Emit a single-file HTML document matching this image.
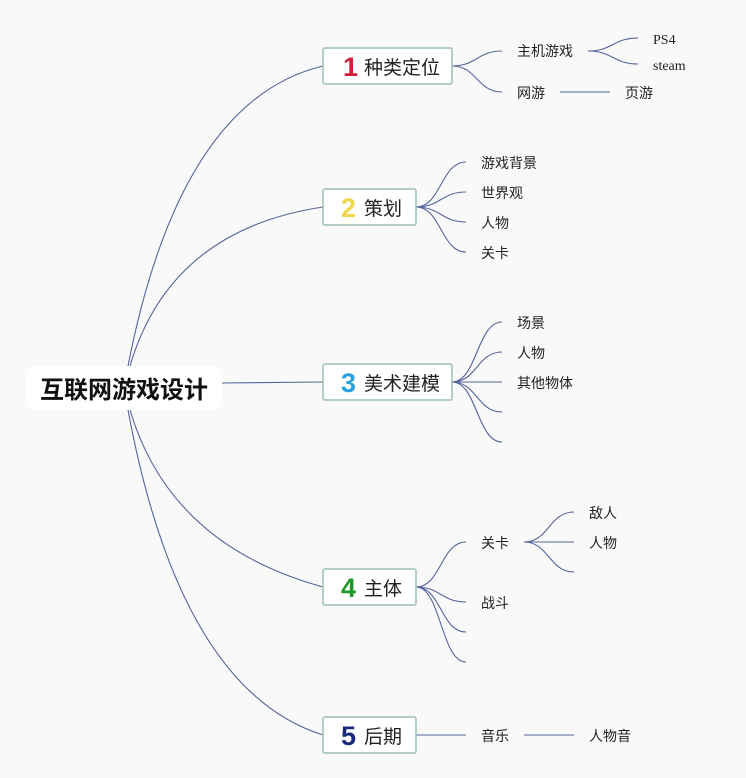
<!DOCTYPE html>
<html><head><meta charset="utf-8"><style>
html,body{margin:0;padding:0;background:#f9f9fa;}
svg{display:block;}
text{font-family:"Liberation Sans","Noto Sans CJK SC",sans-serif;fill:#222;}
.t{font-size:14px;}
.n{font-size:19px;}
.num{font-size:27px;font-weight:bold;}
</style></head><body>
<svg width="746" height="778" viewBox="0 0 746 778" xmlns="http://www.w3.org/2000/svg">
<g fill="none" stroke="#55659a" stroke-width="1.1">
<!-- root -->
<path d="M128 366 Q180 100 323 66"/>
<path d="M130 366 Q170 230 323 207"/>
<path d="M222 383 L323 382"/>
<path d="M130 410 Q170 545 323 587"/>
<path d="M128 410 Q180 690 323 735"/>
<!-- node1 -->
<path d="M452 66 C477 66 477 51 502 51"/>
<path d="M452 66 C477 66 477 92 502 92"/>
<path d="M588 51 C613 51 613 38 638 38"/>
<path d="M588 51 C613 51 613 64 638 64"/>
<path d="M560 92 L610 92"/>
<!-- node2 -->
<path d="M416 207 C441 207 441 162 466 162"/>
<path d="M416 207 C441 207 441 192 466 192"/>
<path d="M416 207 C441 207 441 222 466 222"/>
<path d="M416 207 C441 207 441 252 466 252"/>
<!-- node3 -->
<path d="M452 382 C477 382 477 322 502 322"/>
<path d="M452 382 C477 382 477 352 502 352"/>
<path d="M452 382 L502 382"/>
<path d="M452 382 C477 382 477 412 502 412"/>
<path d="M452 382 C477 382 477 442 502 442"/>
<!-- node4 -->
<path d="M416 587 C441 587 441 542 466 542"/>
<path d="M416 587 C441 587 441 602 466 602"/>
<path d="M416 587 C441 587 441 632 466 632"/>
<path d="M416 587 C441 587 441 662 466 662"/>
<path d="M524 542 C549 542 549 512 574 512"/>
<path d="M524 542 L574 542"/>
<path d="M524 542 C549 542 549 572 574 572"/>
<!-- node5 -->
<path d="M416 735 L466 735"/>
<path d="M524 735 L574 735"/>
</g>
<!-- root box -->
<rect x="26" y="366" width="196" height="44" rx="10" fill="#fff"/>
<text x="124" y="398" text-anchor="middle" style="font-size:24px;font-weight:bold;fill:#111">互联网游戏设计</text>
<g fill="#fff" stroke="#9cbfb4" stroke-width="1.5">
<rect x="323" y="48" width="129" height="36" rx="2"/>
<rect x="323" y="189" width="93" height="36" rx="2"/>
<rect x="323" y="364" width="129" height="36" rx="2"/>
<rect x="323" y="569" width="93" height="36" rx="2"/>
<rect x="323" y="717" width="93" height="36" rx="2"/>
</g>
<text x="343" y="76" class="num" style="fill:#d4203a">1</text><text x="364" y="74" class="n">种类定位</text>
<text x="341" y="217" class="num" style="fill:#f0d64a">2</text><text x="364" y="215" class="n">策划</text>
<text x="341" y="392" class="num" style="fill:#2aa0dd">3</text><text x="364" y="390" class="n">美术建模</text>
<text x="341" y="597" class="num" style="fill:#1f9a2a">4</text><text x="364" y="595" class="n">主体</text>
<text x="341" y="745" class="num" style="fill:#1c2a7a">5</text><text x="364" y="743" class="n">后期</text>
<g class="t">
<text x="517" y="56" class="t">主机游戏</text>
<text x="653" y="44" class="t" style="font-family:'Liberation Serif',serif">PS4</text>
<text x="653" y="70" class="t" style="font-family:'Liberation Serif',serif">steam</text>
<text x="517" y="98" class="t">网游</text>
<text x="625" y="98" class="t">页游</text>
<text x="481" y="168" class="t">游戏背景</text>
<text x="481" y="198" class="t">世界观</text>
<text x="481" y="228" class="t">人物</text>
<text x="481" y="258" class="t">关卡</text>
<text x="517" y="328" class="t">场景</text>
<text x="517" y="358" class="t">人物</text>
<text x="517" y="388" class="t">其他物体</text>
<text x="481" y="548" class="t">关卡</text>
<text x="589" y="518" class="t">敌人</text>
<text x="589" y="548" class="t">人物</text>
<text x="481" y="608" class="t">战斗</text>
<text x="481" y="741" class="t">音乐</text>
<text x="589" y="741" class="t">人物音</text>
</g>
</svg>
</body></html>
